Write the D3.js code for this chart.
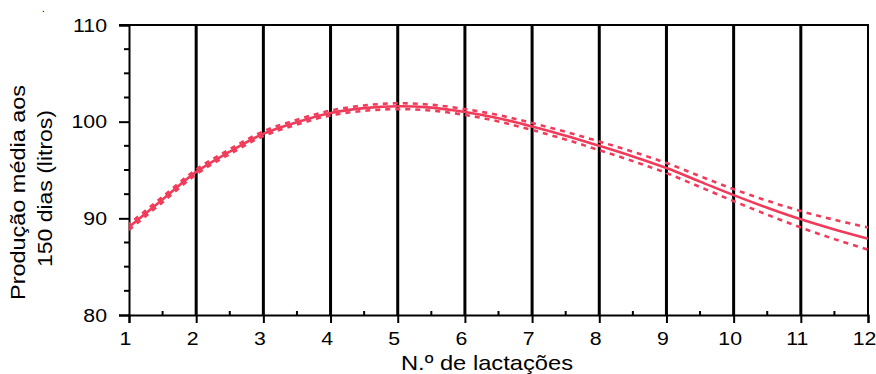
<!DOCTYPE html>
<html>
<head>
<meta charset="utf-8">
<script src="https://cdn.jsdelivr.net/npm/d3@7"></script>
<style>
  body { margin: 0; background: #fff; }
  svg { display: block; font-family: "Liberation Sans", Arial, sans-serif; }
</style>
</head>
<body>
<div id="container"></div>
<script>
// Dados
const lactacoes = [1, 1.5, 2, 2.5, 3, 3.5, 4, 4.5, 5, 5.5, 6, 6.5, 7, 7.5, 8, 8.5, 9, 9.5, 10, 10.5, 11, 11.5, 12];
const media = [89.1, 91.95, 94.8, 96.9, 98.75, 99.95, 100.9, 101.4, 101.6, 101.45, 101.0, 100.35, 99.5, 98.55, 97.5, 96.4, 95.2, 93.8, 92.4, 91.1, 89.9, 88.85, 87.9];
const limInf = [88.8, 91.67, 94.55, 96.65, 98.5, 99.7, 100.65, 101.12, 101.3, 101.15, 100.7, 100.02, 99.14, 98.15, 97.05, 95.92, 94.68, 93.24, 91.78, 90.38, 89.05, 87.85, 86.75];
const limSup = [89.4, 92.23, 95.05, 97.15, 99.0, 100.2, 101.15, 101.68, 101.9, 101.75, 101.3, 100.68, 99.86, 98.95, 97.95, 96.88, 95.72, 94.36, 93.02, 91.82, 90.75, 89.85, 89.05];

const xTicks = [1, 2, 3, 4, 5, 6, 7, 8, 9, 10, 11, 12];
const yTicks = [80, 90, 100, 110];
const gridX = [2, 3, 4, 5, 6, 7, 8, 9, 10, 11];

const W = 876, H = 374;
const mLeft = 129, mRight = 868, mTop = 25, mBottom = 315;
const cor = '#f03c5a';

const svg = d3.select('#container').append('svg')
  .attr('width', W).attr('height', H);

const x = d3.scaleLinear().domain([1, 12]).range([mLeft, mRight]);
const y = d3.scaleLinear().domain([80, 110]).range([mBottom, mTop]);

// linhas verticais
svg.append('g').selectAll('line').data(gridX).join('line')
  .attr('x1', d => x(d)).attr('x2', d => x(d))
  .attr('y1', mTop).attr('y2', mBottom)
  .attr('stroke', '#000').attr('stroke-width', 3);

// moldura superior e direita
svg.append('line')
  .attr('x1', mLeft - 10).attr('x2', mRight + 1)
  .attr('y1', mTop).attr('y2', mTop)
  .attr('stroke', '#000').attr('stroke-width', 2);
svg.append('line')
  .attr('x1', mRight).attr('x2', mRight)
  .attr('y1', mTop).attr('y2', mBottom)
  .attr('stroke', '#000').attr('stroke-width', 2);

// ticks menores
const yMinor = d3.range(80, 110.01, 2.5).filter(v => v % 10 !== 0);
svg.append('g').selectAll('line').data(yMinor).join('line')
  .attr('x1', mLeft - 5).attr('x2', mLeft)
  .attr('y1', d => y(d)).attr('y2', d => y(d))
  .attr('stroke', '#000').attr('stroke-width', 2);
const xMinor = d3.range(1.5, 12, 1);
svg.append('g').selectAll('line').data(xMinor).join('line')
  .attr('x1', d => x(d)).attr('x2', d => x(d))
  .attr('y1', mBottom - 4).attr('y2', mBottom)
  .attr('stroke', '#000').attr('stroke-width', 2);

// eixos
const sx = 1.12;
const gx = svg.append('g').attr('transform', `translate(0,${mBottom})`)
  .call(d3.axisBottom(x).tickValues(xTicks).tickSize(8).tickPadding(9).tickFormat(d3.format('d')));
const gy = svg.append('g').attr('transform', `translate(${mLeft},0)`)
  .call(d3.axisLeft(y).tickValues(yTicks).tickSize(10).tickPadding(12).tickFormat(d3.format('d')));

[gx, gy].forEach(g => {
  g.select('.domain').attr('stroke', '#000').attr('stroke-width', 2);
  g.selectAll('.tick line').attr('stroke', '#000').attr('stroke-width', 2);
  g.selectAll('.tick text').attr('fill', '#000').style('font-size', '19px')
    .style('font-family', '"Liberation Sans", Arial, sans-serif');
});
gy.selectAll('.tick text').attr('x', -22 / sx).attr('transform', `scale(${sx},1)`);
gx.selectAll('.tick text').attr('x', -4 / sx).attr('transform', `scale(${sx},1)`);

// curvas
const line = d3.line().x(d => x(d[0])).y(d => y(d[1])).curve(d3.curveCatmullRom.alpha(0.5));
const g = svg.append('g').attr('fill', 'none').attr('stroke', cor);

g.append('path')
  .attr('d', line(lactacoes.map((v, i) => [v, limInf[i]])))
  .attr('stroke-width', 2.6).attr('stroke-dasharray', '5,5');
g.append('path')
  .attr('d', line(lactacoes.map((v, i) => [v, limSup[i]])))
  .attr('stroke-width', 2.6).attr('stroke-dasharray', '5,5').attr('stroke-dashoffset', 3);
g.append('path')
  .attr('d', line(lactacoes.map((v, i) => [v, media[i]])))
  .attr('stroke-width', 2.6);

// títulos dos eixos
svg.append('text')
  .attr('x', 487).attr('y', 370)
  .attr('text-anchor', 'middle')
  .attr('textLength', 172).attr('lengthAdjust', 'spacingAndGlyphs')
  .style('font-size', '21px')
  .text('N.º de lactações');

svg.append('text')
  .attr('transform', 'translate(25,192.5) rotate(-90)')
  .attr('text-anchor', 'middle')
  .attr('textLength', 215).attr('lengthAdjust', 'spacingAndGlyphs')
  .style('font-size', '21px')
  .text('Produção média aos');
svg.append('text')
  .attr('transform', 'translate(52,188.5) rotate(-90)')
  .attr('text-anchor', 'middle')
  .attr('textLength', 157).attr('lengthAdjust', 'spacingAndGlyphs')
  .style('font-size', '21px')
  .text('150 dias (litros)');

svg.append('text').attr('x', 42).attr('y', 12).style('font-size', '10px').text('.');
</script>
</body>
</html>
